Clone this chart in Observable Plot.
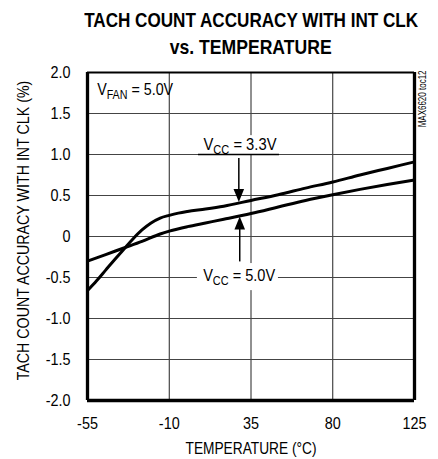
<!DOCTYPE html>
<html>
<head>
<meta charset="utf-8">
<script src="https://cdn.jsdelivr.net/npm/d3@7"></script>
<script src="https://cdn.jsdelivr.net/npm/@observablehq/plot@0.6"></script>
<style>
  html, body { margin: 0; padding: 0; background: #fff; }
  #wrap { width: 438px; height: 459px; position: relative; overflow: hidden; }
  #title { position: relative; height: 60px; font-family: "Liberation Sans", Arial, sans-serif; font-weight: bold; font-size: 21px; line-height: 21px; color: #000; }
  #title div { position: absolute; left: 0; width: 502px; text-align: center; white-space: nowrap; }
  #title span { display: inline-block; transform-origin: 50% 50%; }
  #chart svg { display: block; }
</style>
</head>
<body>
<div id="wrap">
  <div id="title">
    <div style="top:9px;"><span id="t1">TACH COUNT ACCURACY WITH INT CLK</span></div>
    <div style="top:35.5px;"><span id="t2">vs. TEMPERATURE</span></div>
  </div>
  <div id="chart"></div>
</div>
<script>
// ---- data ----
const temp33 = [-55, -50, -45, -40, -35, -30, -25, -20, -15, -10, -5, 0, 10, 20, 35, 50, 65, 80, 95, 110, 125];
const acc33  = [-0.66, -0.54, -0.41, -0.28, -0.155, -0.03, 0.08, 0.165, 0.225, 0.258, 0.285, 0.305, 0.335, 0.37, 0.44, 0.51, 0.59, 0.665, 0.75, 0.83, 0.91];
const temp50 = [-55, -45, -35, -25, -15, -10, 0, 10, 20, 35, 50, 65, 80, 95, 110, 125];
const acc50  = [-0.30, -0.22, -0.14, -0.06, 0.03, 0.065, 0.12, 0.165, 0.21, 0.28, 0.36, 0.44, 0.51, 0.575, 0.635, 0.69];
const xTicks = [-55, -10, 35, 80, 125];
const yTicks = [-2, -1.5, -1, -0.5, 0, 0.5, 1, 1.5, 2];
const xTitle = "TEMPERATURE (°C)";
const yTitle = "TACH COUNT ACCURACY WITH INT CLK (%)";
const noteText = "MAX6620 toc12";
const condText = "V_{FAN} = 5.0V";
const label33 = "V_{CC} = 3.3V";
const label50 = "V_{CC} = 5.0V";

// ---- tables built from the arrays ----
const s33 = temp33.map((t, i) => ({t, v: acc33[i]}));
const s50 = temp50.map((t, i) => ({t, v: acc50[i]}));

const FONT = '"Liberation Sans", Arial, sans-serif';

// custom filled arrowhead symbols (tip at the anchor point)
const headDown = {draw(ctx) { ctx.moveTo(0, 0); ctx.lineTo(-5.3, -13); ctx.lineTo(5.3, -13); ctx.closePath(); }};
const headUp   = {draw(ctx) { ctx.moveTo(0, 0); ctx.lineTo(-5.3, 13); ctx.lineTo(5.3, 13); ctx.closePath(); }};

const fmtY = v => v === 0 ? "0" : (v < 0 ? "-" : "") + Math.abs(v).toFixed(1);

const chart = Plot.plot({
  width: 438,
  height: 399,
  marginTop: 12,
  marginBottom: 59,
  marginLeft: 87,
  marginRight: 24,
  style: {fontFamily: FONT, fontSize: "16px", color: "#000", background: "#fff"},
  x: {domain: [-55, 125]},
  y: {domain: [-2, 2]},
  marks: [
    Plot.gridX(xTicks, {stroke: "#222", strokeOpacity: 1, strokeWidth: 1}),
    Plot.gridY(yTicks, {stroke: "#444", strokeOpacity: 1, strokeWidth: 1}),
    // label backgrounds
    Plot.rect([{x1: 6.1, x2: 50.7, y1: 1.0, y2: 1.23}], {x1: "x1", x2: "x2", y1: "y1", y2: "y2", fill: "white"}),
    Plot.rect([{x1: 5.5, x2: 50.1, y1: -0.33, y2: -0.66}], {x1: "x1", x2: "x2", y1: "y1", y2: "y2", fill: "white"}),
    // underline of the 3.3V label
    Plot.ruleY([1.0], {x1: 6.1, x2: 50.7, stroke: "#000", strokeWidth: 1.5}),
    // curves
    Plot.line(s33, {x: "t", y: "v", curve: "monotone-x", stroke: "#000", strokeWidth: 3}),
    Plot.line(s50, {x: "t", y: "v", curve: "monotone-x", stroke: "#000", strokeWidth: 3}),
    // arrows
    Plot.ruleX([28.3], {y1: 0.95, y2: 0.52, stroke: "#000", strokeWidth: 1.5}),
    Plot.dot([{t: 28.3, v: 0.42}], {x: "t", y: "v", symbol: headDown, fill: "#000", stroke: "none", r: 5}),
    Plot.ruleX([28.8], {y1: -0.31, y2: 0.14, stroke: "#000", strokeWidth: 1.5}),
    Plot.dot([{t: 28.8, v: 0.245}], {x: "t", y: "v", symbol: headUp, fill: "#000", stroke: "none", r: 5}),
    // frame
    Plot.ruleX([-55, 125], {stroke: "#000", strokeWidth: 3.3}),
    Plot.ruleY([-2], {stroke: "#000", strokeWidth: 3.3}),
    Plot.ruleY([2], {stroke: "#000", strokeWidth: 2}),
    // axes
    Plot.axisX(xTicks, {tickSize: 0, tickPadding: 17, fontSize: 16, tickFormat: d => String(d).replace("\u2212", "-")}),
    Plot.axisY(yTicks, {tickSize: 0, tickPadding: 17, fontSize: 16, tickFormat: fmtY}),
    Plot.text([xTitle], {frameAnchor: "bottom", lineAnchor: "middle", dy: 48, fontSize: 16}),
    Plot.text([yTitle], {frameAnchor: "left", lineAnchor: "middle", textAnchor: "middle", dx: -64, dy: -6, rotate: -90, fontSize: 16}),
    Plot.text([noteText], {frameAnchor: "top-right", lineAnchor: "middle", dx: 8.7, dy: 26.4, rotate: -90, fontSize: 10, textAnchor: "middle"}),
    // annotations
    Plot.text([{t: -49.7, v: 1.79, s: condText}], {x: "t", y: "v", text: "s", textAnchor: "start", lineAnchor: "middle", fontSize: 16}),
    Plot.text([{t: 8.84, v: 1.12, s: label33}], {x: "t", y: "v", text: "s", textAnchor: "start", lineAnchor: "middle", fontSize: 16}),
    Plot.text([{t: 8.67, v: -0.48, s: label50}], {x: "t", y: "v", text: "s", textAnchor: "start", lineAnchor: "middle", fontSize: 16})
  ]
});

document.getElementById("chart").appendChild(chart);

// render "_{...}" as subscripts
const NS = "http://www.w3.org/2000/svg";
d3.select(chart).selectAll("text").each(function () {
  const t = this.textContent;
  if (!t.includes("_{")) return;
  const parts = t.split(/(_\{[^}]*\})/).filter(p => p);
  this.textContent = "";
  let lastSub = false;
  for (const p of parts) {
    const ts = document.createElementNS(NS, "tspan");
    if (p.startsWith("_{")) {
      ts.textContent = p.slice(2, -1);
      ts.setAttribute("font-size", "12");
      ts.setAttribute("dy", "4");
      lastSub = true;
    } else {
      ts.textContent = p;
      if (lastSub) ts.setAttribute("dy", "-4");
      lastSub = false;
    }
    this.appendChild(ts);
  }
});

// condensed lettering (the original uses a narrow face)
const plain = s => s.replace(/_\{([^}]*)\}/g, "$1");
const targets = new Map([
  [yTitle, 300], [xTitle, 131], [noteText, 57],
  [plain(condText), 76], [plain(label33), 73], [plain(label50), 72]
]);
d3.select(chart).selectAll("text").each(function () {
  const w = this.getComputedTextLength();
  if (!w) return;
  const target = targets.has(this.textContent) ? targets.get(this.textContent) : w * 0.9;
  const k = target / w;
  const tr = this.getAttribute("transform") || "";
  if (tr.includes("rotate")) {
    // rotated texts: squeeze along the reading direction around the anchor
    const x = +this.getAttribute("x") || 0, y = +this.getAttribute("y") || 0;
    this.setAttribute("transform", `${tr} translate(${x},${y}) scale(${k.toFixed(4)},1) translate(${-x},${-y})`);
  } else {
    this.setAttribute("textLength", target.toFixed(1));
    this.setAttribute("lengthAdjust", "spacingAndGlyphs");
  }
});

// title lines condensed to the original widths
for (const [id, target] of [["t1", 334], ["t2", 162]]) {
  const el = document.getElementById(id);
  const w = el.getBoundingClientRect().width;
  if (w) el.style.transform = `scaleX(${(target / w).toFixed(4)})`;
}
</script>
</body>
</html>
